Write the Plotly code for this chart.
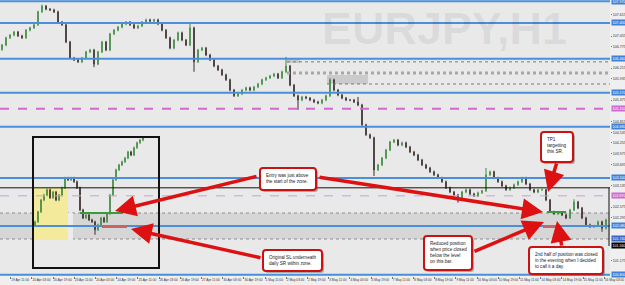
import plotly.graph_objects as go

# ---------------- data ----------------
closes = [
    106.82, 107.01, 107.08, 107.16, 107.06, 107.01, 107.21, 107.27, 107.35, 107.69,
    107.84, 107.76, 107.74, 107.69, 107.42, 107.35, 106.90, 106.48, 106.43, 106.38,
    106.48, 106.64, 106.69, 106.32, 106.64, 106.90, 106.69, 107.11, 107.21, 107.29,
    107.37, 107.42, 107.35, 107.27, 107.32, 107.42, 107.48, 107.45, 107.48, 107.37,
    107.21, 107.01, 106.74, 106.95, 107.14, 106.95, 106.82, 107.27, 106.38, 106.69,
    106.74, 106.56, 106.43, 106.27, 106.17, 106.04, 105.91, 105.64, 105.49, 105.54,
    105.64, 105.70, 105.64, 105.72, 105.80, 105.91, 105.96, 106.01, 106.06, 105.96,
    106.12, 106.27, 105.77, 105.49, 105.38, 105.46, 105.43, 105.38, 105.33, 105.30,
    105.38, 105.49, 105.91, 105.64, 105.51, 105.43, 105.38, 105.38, 105.33, 105.25,
    104.73, 104.47, 104.39, 103.55, 103.68, 103.86, 104.07, 104.28, 104.33, 104.20,
    104.26, 104.15, 104.02, 103.94, 103.81, 103.68, 103.60, 103.50, 103.42, 103.34,
    103.24, 103.08, 102.97, 102.89, 102.82, 102.97, 103.03, 102.92, 102.87, 102.95,
    103.00, 103.42, 103.50, 103.34, 103.24, 103.13, 103.03, 103.08, 103.16, 103.24,
    103.34, 103.18, 103.03, 102.97, 103.03, 103.03, 102.76, 102.45, 102.40, 102.42,
    102.37, 102.29, 102.50, 102.71, 102.55, 102.29, 102.11, 102.06, 102.08, 102.19,
    102.02, 102.24,
]
first_open = 106.70
high_spikes = {10: 107.88, 47: 107.40, 71: 106.51, 82: 105.96, 89: 105.46,
               121: 103.60, 143: 102.78}
low_spikes = {23: 106.24, 48: 106.12, 74: 105.12, 93: 103.39, 114: 102.69,
              150: 101.93}

inset_closes = [
    102.19, 102.45, 102.76, 102.89, 103.03, 102.82, 102.97, 102.76, 102.89, 103.08,
    103.34, 103.29, 103.34, 103.24, 103.08, 102.50, 102.29, 102.37, 102.24, 102.19,
    101.98, 102.11, 102.29, 102.19, 102.40, 102.89, 103.29, 103.55, 103.68, 103.76,
    103.86, 104.02, 103.94, 104.13, 104.26, 104.33, 104.39,
]
inset_first_open = 102.10
inset_low_spikes = {20: 101.85}

x_labels = [
    "18 Apr 2012", "19 Apr 11:00", "20 Apr 03:00", "20 Apr 19:00", "23 Apr 11:00",
    "24 Apr 03:00", "24 Apr 19:00", "25 Apr 11:00", "26 Apr 03:00", "26 Apr 19:00",
    "27 Apr 11:00", "30 Apr 03:00", "30 Apr 19:00", "1 May 11:00", "2 May 03:00",
    "2 May 19:00", "3 May 11:00", "4 May 03:00", "4 May 19:00", "7 May 11:00",
    "8 May 03:00", "8 May 19:00", "9 May 11:00", "10 May 03:00", "10 May 19:00",
    "11 May 11:00", "14 May 03:00", "14 May 19:00", "15 May 11:00", "16 May 03:00",
]
y_ticks = [107.895, 107.615, 107.335, 107.055, 106.775, 106.495, 106.215, 105.935,
           105.655, 105.375, 105.095, 104.815, 104.535, 104.255, 103.975, 103.695,
           103.415, 103.135, 102.855, 102.575, 102.295, 102.015, 101.735, 101.455,
           101.175, 100.895]

blue_levels = [107.97, 107.40, 106.46, 105.57, 104.68, 103.34, 102.08, 100.80]
pink_level = 105.15
pink_thin_level = 102.87
black_level = 103.08
zone_top, zone_bottom = 102.42, 101.74
bid_price = 101.56
upper_dotted = [106.38, 106.09, 105.80]

callouts = [
    ("Entry was just above<br>the start of the zone.", (260, 168, 316, 190)),
    ("Original SL underneath<br>daily SR within zone.", (263, 250, 322, 271)),
    ("TP1<br>targetting<br>this SR.", (541, 132, 573, 162)),
    ("Reduced position<br>when price closed<br>below the level<br>on this bar.", (424, 236, 472, 270)),
    ("2nd half of position was closed<br>in the evening when I decided<br>to call it a day.", (529, 247, 603, 274)),
]

# ---------------- geometry helpers ----------------
W_PLOT, H_PLOT = 610, 276
Y_MIN, Y_MAX = 100.77, 108.00
def px(x):
    return x / W_PLOT
def py(y):
    return 1 - y / H_PLOT
def unit(xpix):
    return xpix / 4 - 0.5

opens = [first_open] + closes[:-1]
wick = 0.03
highs = [high_spikes.get(i, max(o, c) + wick) for i, (o, c) in enumerate(zip(opens, closes))]
lows = [low_spikes.get(i, min(o, c) - wick) for i, (o, c) in enumerate(zip(opens, closes))]
xs = list(range(len(closes)))

i_opens = [inset_first_open] + inset_closes[:-1]
i_highs = [max(o, c) + wick for o, c in zip(i_opens, inset_closes)]
i_lows = [inset_low_spikes.get(i, min(o, c) - wick) for i, (o, c) in enumerate(zip(i_opens, inset_closes))]
i_xs = [unit(35 + 3 * j) for j in range(len(inset_closes))]

fig = go.Figure()
style = dict(increasing=dict(line=dict(color="#3f8a3f", width=1), fillcolor="#4c9a4c"),
             decreasing=dict(line=dict(color="#3a2c2c", width=1), fillcolor="#3a2c2c"),
             showlegend=False, hoverinfo="skip")
fig.add_trace(go.Candlestick(x=xs, open=opens, high=highs, low=lows, close=closes, **style))
fig.add_trace(go.Candlestick(x=i_xs, open=i_opens, high=i_highs, low=i_lows, close=inset_closes, **style))

shapes = []
# lower zone
shapes.append(dict(type="rect", xref="paper", yref="y", x0=0, x1=1, y0=zone_bottom, y1=zone_top,
                   fillcolor="#d6d6d6", line=dict(width=0), layer="below"))
for lv in (zone_top, zone_bottom):
    shapes.append(dict(type="line", xref="paper", yref="y", x0=0, x1=1, y0=lv, y1=lv,
                       line=dict(color="#8a8a8a", width=1, dash="dot"), layer="below"))
# inset yellow area
shapes.append(dict(type="rect", xref="paper", yref="paper", x0=px(34), x1=px(68), y0=py(240), y1=py(187),
                   fillcolor="#f4ea9c", line=dict(width=0), layer="below"))
shapes.append(dict(type="rect", xref="paper", yref="paper", x0=px(68), x1=px(73), y0=py(240), y1=py(213),
                   fillcolor="#ececec", line=dict(width=0), layer="below"))
# upper grey zones
shapes.append(dict(type="rect", xref="paper", yref="paper", x0=px(287), x1=px(300), y0=py(63), y1=py(59),
                   fillcolor="#c9c9c9", line=dict(width=0), layer="below"))
shapes.append(dict(type="rect", xref="paper", yref="paper", x0=px(327), x1=px(368), y0=py(84), y1=py(75),
                   fillcolor="#cbcbcb", line=dict(width=0), layer="below"))
shapes.append(dict(type="line", xref="paper", yref="y", x0=px(287), x1=1, y0=upper_dotted[0], y1=upper_dotted[0],
                   line=dict(color="#7a7a7a", width=1, dash="dot")))
shapes.append(dict(type="line", xref="paper", yref="y", x0=px(287), x1=1, y0=upper_dotted[1], y1=upper_dotted[1],
                   line=dict(color="#a8a8a8", width=3, dash="dot")))
shapes.append(dict(type="line", xref="paper", yref="y", x0=px(327), x1=1, y0=upper_dotted[2], y1=upper_dotted[2],
                   line=dict(color="#7a7a7a", width=1, dash="dot")))
# level lines
for lv in blue_levels:
    shapes.append(dict(type="line", xref="paper", yref="y", x0=0, x1=1, y0=lv, y1=lv,
                       line=dict(color="#4a8fdc", width=2)))
shapes.append(dict(type="line", xref="paper", yref="y", x0=0, x1=1, y0=pink_level, y1=pink_level,
                   line=dict(color="#d06ad0", width=2, dash="dash")))
shapes.append(dict(type="line", xref="paper", yref="y", x0=0, x1=1, y0=pink_thin_level, y1=pink_thin_level,
                   line=dict(color="#c7a2d6", width=1, dash="dash")))
shapes.append(dict(type="line", xref="paper", yref="y", x0=0, x1=1, y0=black_level, y1=black_level,
                   line=dict(color="#111111", width=1)))
shapes.append(dict(type="line", xref="paper", yref="paper", x0=px(609), x1=px(609), y0=py(246), y1=py(188),
                   line=dict(color="#111111", width=1)))
# inset frame
shapes.append(dict(type="rect", xref="paper", yref="paper", x0=px(33), x1=px(159), y0=py(268), y1=py(137),
                   line=dict(color="#111111", width=2), fillcolor="rgba(0,0,0,0)"))
# entry / SL marks
for (x0, x1, yy, col) in [(80, 123, 213, "#3c9a3c"), (547, 566, 212, "#3c9a3c"),
                          (102, 127, 227, "#c86464"), (543, 558, 227, "#c86464")]:
    shapes.append(dict(type="line", xref="paper", yref="paper", x0=px(x0), x1=px(x1), y0=py(yy), y1=py(yy),
                       line=dict(color=col, width=2)))

def rounded(x0, y0, x1, y1, r=3):
    pts = []
    pts.append(f"M {px(x0 + r)},{py(y0)}")
    pts.append(f"L {px(x1 - r)},{py(y0)} Q {px(x1)},{py(y0)} {px(x1)},{py(y0 + r)}")
    pts.append(f"L {px(x1)},{py(y1 - r)} Q {px(x1)},{py(y1)} {px(x1 - r)},{py(y1)}")
    pts.append(f"L {px(x0 + r)},{py(y1)} Q {px(x0)},{py(y1)} {px(x0)},{py(y1 - r)}")
    pts.append(f"L {px(x0)},{py(y0 + r)} Q {px(x0)},{py(y0)} {px(x0 + r)},{py(y0)} Z")
    return " ".join(pts)

annotations = []
# watermark: semi-transparent so the level lines show through
annotations.append(dict(xref="paper", yref="paper", x=px(444), y=py(28), xanchor="center", yanchor="middle",
                        text="<b>EURJPY,H1</b>", showarrow=False,
                        font=dict(family="Liberation Sans, Arial, sans-serif", size=45, color="rgba(0,0,0,0.065)")))

for text, (x0, y0, x1, y1) in callouts:
    shapes.append(dict(type="path", xref="paper", yref="paper", path=rounded(x0 + 2, y0 + 2, x1 + 2, y1 + 2),
                       fillcolor="rgba(90,90,90,0.45)", line=dict(width=0)))
    shapes.append(dict(type="path", xref="paper", yref="paper", path=rounded(x0, y0, x1, y1),
                       fillcolor="#ffffff", line=dict(color="#cc1111", width=2)))
    annotations.append(dict(xref="paper", yref="paper", x=px(x0 + 4), y=py(y0 + 3), xanchor="left",
                            yanchor="top", align="left", showarrow=False, text=text,
                            font=dict(family="Liberation Sans, Arial, sans-serif", size=4.6, color="#222222")))

arrows = [((258, 176), (115, 211)), ((318, 177), (543, 212)), ((262, 258), (131, 229)),
          ((557, 162), (548, 192)), ((473, 252), (544, 222)), ((562, 247), (557, 221))]
for (tx, ty), (hx, hy) in arrows:
    annotations.append(dict(xref="paper", yref="paper", x=px(hx), y=py(hy), ax=tx - hx, ay=ty - hy,
                            axref="pixel", ayref="pixel", text="", showarrow=True, arrowhead=2,
                            arrowsize=1.2, arrowwidth=3.5, arrowcolor="#dd1111", standoff=0))

# price labels for the levels on the right axis
lab_font = dict(family="Liberation Sans, Arial, sans-serif", size=3.6, color="#ffffff")
level_labels = [(v, "#3f82d6") for v in blue_levels] + [(pink_level, "#cf6bcf"), (pink_thin_level, "#cf6bcf"),
                                                       (zone_bottom, "#3a66c4"), (bid_price, "#000000")]
for lv, bg in level_labels:
    annotations.append(dict(xref="paper", yref="y", x=1, y=lv, xanchor="left", xshift=1, text=f"{lv:.3f}",
                            showarrow=False, bgcolor=bg, borderpad=0.6, font=lab_font))

# regular price ticks, skipping the ones hidden behind level labels
min_gap = 4.6 / H_PLOT * (Y_MAX - Y_MIN)
shown_ticks = [t for t in y_ticks if all(abs(t - lv) >= min_gap for lv, _ in level_labels)]

fig.update_layout(
    width=625, height=285,
    margin=dict(l=0, r=15, t=0, b=9),
    paper_bgcolor="#efefef", plot_bgcolor="#e9e9e9",
    shapes=shapes, annotations=annotations,
    showlegend=False,
    xaxis=dict(range=[-0.5, 152.0], rangeslider=dict(visible=False), showgrid=False, zeroline=False,
               tickmode="array", tickvals=[unit(-10.5 + 21.2 * k) for k in range(len(x_labels))],
               ticktext=x_labels, tickangle=0,
               tickfont=dict(family="Liberation Sans, Arial, sans-serif", size=3.2, color="#333"),
               ticks="outside", ticklen=2, tickcolor="#777", ticklabelposition="outside right",
               ticklabeloverflow="allow", fixedrange=True),
    yaxis=dict(range=[Y_MIN, Y_MAX], side="right", showgrid=False, zeroline=False,
               tickmode="array", tickvals=shown_ticks, ticktext=[f"{v:.3f}" for v in shown_ticks],
               tickfont=dict(family="Liberation Sans, Arial, sans-serif", size=3.6, color="#333"),
               ticks="outside", ticklen=1, tickcolor="#777", fixedrange=True),
)

fig.write_html("out.html")
